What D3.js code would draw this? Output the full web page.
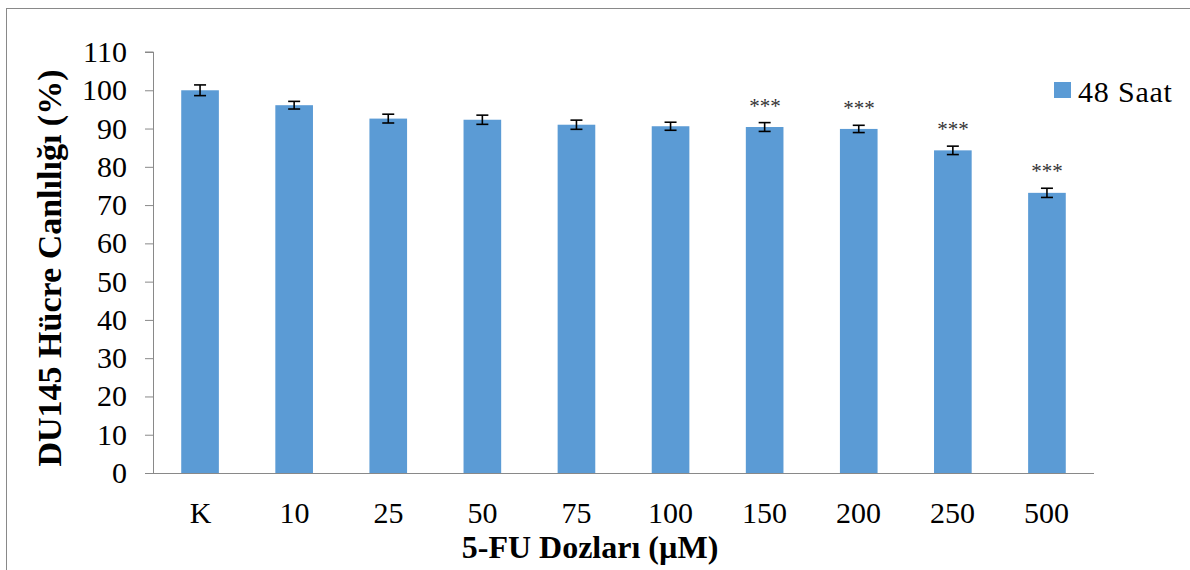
<!DOCTYPE html>
<html>
<head>
<meta charset="utf-8">
<script src="https://cdn.jsdelivr.net/npm/d3@7"></script>
<style>
  html, body { margin: 0; padding: 0; background: #fff; }
  svg { display: block; }
</style>
</head>
<body>
<svg id="chart" width="1190" height="570"></svg>
<script>
// Doses of 5-FU (µM); "K" is the untreated control
const doses = ["K", "10", "25", "50", "75", "100", "150", "200", "250", "500"];
// Mean DU145 viability (%) after 48 h
const viability = [100, 96.1, 92.6, 92.3, 91.0, 90.6, 90.4, 89.9, 84.3, 73.2];
// Standard error of each mean
const errors = [1.4, 1.0, 1.15, 1.2, 1.2, 1.05, 1.15, 0.95, 1.1, 1.2];
// Significance markers versus control
const significance = ["", "", "", "", "", "", "***", "***", "***", "***"];
const yTicks = [0, 10, 20, 30, 40, 50, 60, 70, 80, 90, 100, 110];
const seriesName = "48 Saat";

const FONT = "Liberation Serif";
const svg = d3.select("#chart");
const axisGrey = "#898989";
const barBlue = "#5B9BD5";

// outer chart frame
svg.append("rect")
  .attr("x", 6.5).attr("y", 8.5)
  .attr("width", 1200).attr("height", 600)
  .attr("fill", "none").attr("stroke", axisGrey).attr("stroke-width", 1);

const plot = { left: 153, right: 1094, top: 52, bottom: 473 };

const x = d3.scaleBand()
  .domain(doses)
  .range([plot.left, plot.right])
  .paddingInner(0.6)
  .paddingOuter(0.3);

const y = d3.scaleLinear()
  .domain([0, 110])
  .range([plot.bottom, plot.top]);

// y axis; labels snapped to whole pixels so the serif glyphs stay crisp
const yAxis = d3.axisLeft(y).tickValues(yTicks).tickSize(8).tickPadding(18);
const gy = svg.append("g")
  .attr("transform", `translate(${plot.left},0)`)
  .call(yAxis);
gy.select(".domain").attr("stroke", axisGrey).attr("d", `M-8,${y(110)}H0.5V${y(0)}`);
gy.selectAll(".tick line").attr("stroke", axisGrey);
gy.selectAll(".tick text")
  .attr("x", -26)
  .attr("dy", 0)
  .attr("y", d => Math.round(y(d) + 10) - (y(d) + 0.5))
  .style("font-family", FONT)
  .style("font-size", "30px")
  .style("fill", "#000");

// x axis
const xAxis = d3.axisBottom(x).tickSize(0);
const gx = svg.append("g")
  .attr("transform", `translate(0,${plot.bottom + 0.5})`)
  .call(xAxis);
gx.select(".domain").attr("stroke", axisGrey).attr("d", `M${plot.left},0H${plot.right}`);
gx.selectAll(".tick text")
  .attr("x", d => {
    const c = x(d) + x.bandwidth() / 2 + 0.5;
    return Math.round(c) - c;
  })
  .attr("y", 49.5)
  .attr("dy", 0)
  .style("font-family", FONT)
  .style("font-size", "30px")
  .style("fill", "#000");

const rows = doses.map((d, i) => ({ dose: d, v: viability[i], e: errors[i], sig: significance[i] }));

// bars
svg.append("g").selectAll("rect")
  .data(rows)
  .join("rect")
  .attr("x", d => x(d.dose))
  .attr("y", d => y(d.v))
  .attr("width", x.bandwidth())
  .attr("height", d => y(0) - y(d.v))
  .attr("fill", barBlue);

// error bars
const eb = svg.append("g")
  .attr("stroke", "#000")
  .attr("stroke-width", 1.6)
  .selectAll("g")
  .data(rows)
  .join("g")
  .attr("transform", d => `translate(${x(d.dose) + x.bandwidth() / 2},0)`);
eb.append("line").attr("x1", 0).attr("x2", 0)
  .attr("y1", d => y(d.v + d.e)).attr("y2", d => y(d.v - d.e));
eb.append("line").attr("x1", -6).attr("x2", 6)
  .attr("y1", d => y(d.v + d.e)).attr("y2", d => y(d.v + d.e));
eb.append("line").attr("x1", -6).attr("x2", 6)
  .attr("y1", d => y(d.v - d.e)).attr("y2", d => y(d.v - d.e));

// significance stars
svg.append("g").selectAll("text")
  .data(rows.filter(d => d.sig))
  .join("text")
  .attr("x", d => Math.round(x(d.dose) + x.bandwidth() / 2))
  .attr("y", d => Math.round(y(d.v + d.e) - 10))
  .attr("text-anchor", "middle")
  .style("font-family", FONT)
  .style("font-size", "21px")
  .style("fill", "#333")
  .text(d => d.sig);

// axis titles
svg.append("text")
  .attr("x", 590).attr("y", 558)
  .attr("text-anchor", "middle")
  .style("font-family", FONT)
  .style("font-weight", "bold")
  .style("font-size", "32px")
  .text("5-FU Dozları (µM)");

svg.append("text")
  .attr("transform", "translate(61,268) rotate(-90)")
  .attr("text-anchor", "middle")
  .style("font-family", FONT)
  .style("font-weight", "bold")
  .style("font-size", "34px")
  .text("DU145 Hücre Canlılığı (%)");

// legend
const lg = svg.append("g").attr("transform", "translate(1054,82)");
lg.append("rect").attr("width", 17).attr("height", 16).attr("fill", barBlue);
lg.append("text").attr("x", 24).attr("y", 20)
  .style("font-family", FONT)
  .style("font-size", "30px")
  .style("letter-spacing", "0.8px")
  .text(seriesName);
</script>
</body>
</html>
